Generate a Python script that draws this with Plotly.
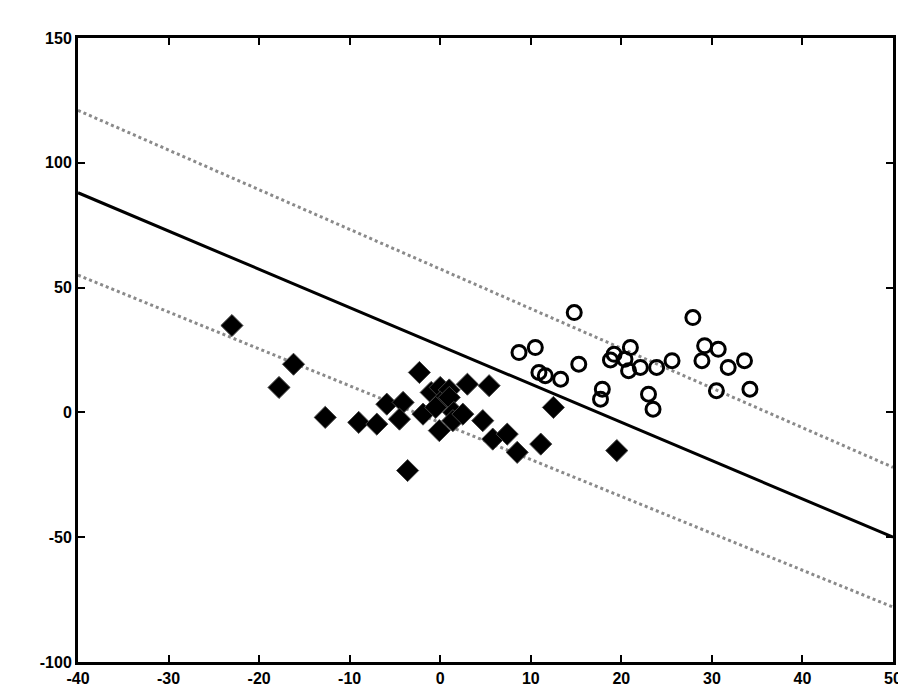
import plotly.graph_objects as go

# Class 1: filled diamonds
dia_x = [-23.0, -16.2, -17.8, -12.7, -9.0, -7.0, -5.9, -4.1, -4.5, -3.6, -2.3, -1.9,
         -1.0, 0.0, 1.0, 0.0, 1.0, -0.5, 1.5, -0.1, 1.4, 2.5, 3.0, 5.4, 4.7, 5.8,
         7.4, 8.5, 11.1, 12.5, 19.5]
dia_y = [34.8, 19.3, 10.0, -2.0, -4.0, -4.7, 3.3, 4.0, -2.7, -23.3, 16.0, -0.7,
         8.0, 10.0, 9.0, 4.0, 6.0, 2.0, 0.0, -7.3, -3.3, -0.7, 11.3, 10.7, -3.3, -10.7,
         -8.7, -16.0, -12.7, 2.0, -15.3]

# Class 2: open circles
cir_x = [14.8, 8.7, 10.5, 15.3, 10.9, 11.6, 13.3, 17.9, 17.7, 19.2, 21.0, 20.4,
         20.8, 22.1, 23.9, 25.6, 23.0, 23.5, 27.9, 29.2, 30.7, 28.9, 31.8, 33.6,
         30.5, 34.2, 18.8]
cir_y = [40.0, 24.0, 26.0, 19.3, 16.0, 14.7, 13.3, 9.3, 5.3, 23.3, 26.0, 21.3,
         16.7, 18.0, 18.0, 20.7, 7.3, 1.3, 38.0, 26.7, 25.3, 20.7, 18.0, 20.7,
         8.7, 9.3, 21.0]

# Separating line and margins
line_x = [-40, 50]
solid_y = [88, -50]
upper_y = [121, -22]
lower_y = [55, -78]

x_ticks = [-40, -30, -20, -10, 0, 10, 20, 30, 40, 50]
y_ticks = [-100, -50, 0, 50, 100, 150]

fig = go.Figure()
fig.add_trace(go.Scatter(x=line_x, y=upper_y, mode="lines",
                         line=dict(color="#8a8a8a", width=3, dash="dot")))
fig.add_trace(go.Scatter(x=line_x, y=lower_y, mode="lines",
                         line=dict(color="#8a8a8a", width=3, dash="dot")))
fig.add_trace(go.Scatter(x=line_x, y=solid_y, mode="lines",
                         line=dict(color="black", width=3)))
fig.add_trace(go.Scatter(x=dia_x, y=dia_y, mode="markers",
                         marker=dict(symbol="diamond", size=17, color="black",
                                     line=dict(color="#444", width=1))))
fig.add_trace(go.Scatter(x=cir_x, y=cir_y, mode="markers",
                         marker=dict(symbol="circle-open", size=14, color="black",
                                     line=dict(color="black", width=3))))

axis_common = dict(showgrid=False, zeroline=False, showline=True, linecolor="black",
                   linewidth=3, mirror="ticks", ticks="inside", ticklen=7,
                   tickwidth=2, tickcolor="black",
                   tickfont=dict(family="Liberation Sans", size=16, color="black",
                                 weight="bold"))
fig.update_xaxes(range=[-40, 50], tickvals=x_ticks,
                 ticktext=[str(v) for v in x_ticks], **axis_common)
fig.update_yaxes(range=[-100, 150], tickvals=y_ticks,
                 ticktext=[str(v) for v in y_ticks], **axis_common)
fig.update_layout(width=906, height=691, showlegend=False,
                  plot_bgcolor="white", paper_bgcolor="white",
                  margin=dict(l=70, r=17, t=30, b=36))
fig.write_html("out.html")
